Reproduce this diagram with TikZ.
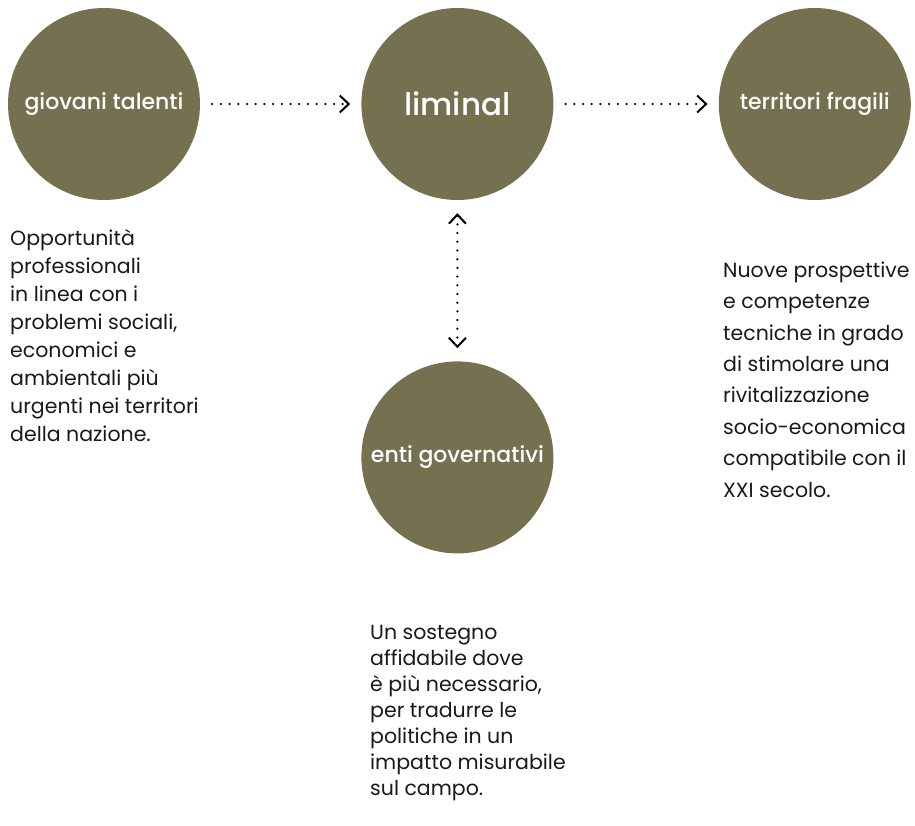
\documentclass[tikz,border=0pt]{standalone}
\usepackage{fontspec}
\setmainfont{Poppins}
\newfontfamily\medfont{Poppins Medium}
\usetikzlibrary{positioning, arrows.meta}
\definecolor{olive}{RGB}{117,113,80}
\tikzset{barb/.tip = {Straight Barb[length=9pt, width=17pt, line width=2pt]}}

\begin{document}
\begin{tikzpicture}[x=1pt, y=-1pt,
        C/.style = {circle, fill=olive, text=white, minimum size=192pt, inner sep=0pt, font=\medfont\fontsize{22}{26}\selectfont},
        T/.style = {anchor=base west, align=left, inner sep=0pt, text=black!90, font=\fontsize{20.5}{#1}\selectfont},
        arrow/.style = {-barb, black, line width=2.5pt, line cap=round, dash pattern=on 0pt off 8.7pt}
    ]
        \useasboundingbox (0,0) rectangle (915,825);

        \node[C] (G) at (104,104) {giovani talenti};
        \node[C, right=161pt of G] (L) {\fontsize{31}{36}\selectfont liminal};
        \node[C, right=165pt of L] (F) {territori fragili};
        \node[C, below=161pt of L] (E) {enti governativi};

        % base = last line
        \node[T=27.9] (Gt) at (10,441) {Opportunità\\professionali\\in linea con i\\problemi sociali,\\economici e\\ambientali più\\urgenti nei territori\\della nazione.};
        \node[T=31.4] (Ft) at (723,497) {Nuove prospettive\\e competenze\\tecniche in grado\\di stimolare una\\rivitalizzazione\\socio-economica\\compatibile con il\\XXI secolo.};
        \node[T=26] (Et) at (370,795) {Un sostegno\\affidabile dove\\è più necessario,\\per tradurre le\\politiche in un\\impatto misurabile\\sul campo.};

        \draw[arrow, shorten <=12pt, shorten >=11pt] (G) -- (L);
        \draw[arrow, shorten <=12pt, shorten >=11pt] (L) -- (F);
        \draw[arrow, barb-barb, shorten <=13pt, shorten >=13pt] (L) -- (E);

    \end{tikzpicture}
\end{document}
